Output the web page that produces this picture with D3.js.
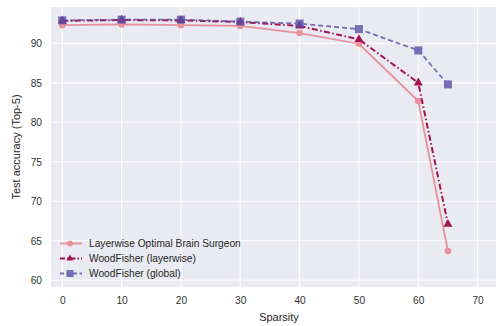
<!DOCTYPE html>
<html><head><meta charset="utf-8">
<script src="https://cdn.jsdelivr.net/npm/d3@7"></script>
<style>body{margin:0;background:#fff}svg{display:block;font-family:"Liberation Sans",Arial,sans-serif}</style>
</head><body><svg id="c" width="496" height="326"></svg>
<script>
const sparsity = [0, 10, 20, 30, 40, 50, 60, 65];
const obsValues = [92.3, 92.4, 92.3, 92.2, 91.3, 89.95, 82.7, 63.7];
const wfLayerValues = [92.85, 92.95, 92.9, 92.7, 92.2, 90.5, 85.0, 67.1];
const wfGlobalValues = [92.9, 93.0, 93.0, 92.75, 92.5, 91.8, 89.1, 84.8];
const xTicks = [0, 10, 20, 30, 40, 50, 60, 70];
const yTicks = [60, 65, 70, 75, 80, 85, 90];
const seriesNames = ["Layerwise Optimal Brain Surgeon", "WoodFisher (layerwise)", "WoodFisher (global)"];

const svg = d3.select("#c");
const L = 51, R = 496, T = 7, B = 287;
const x = d3.scaleLinear().domain([-1.9, 73.1]).range([L, R]);
const y = d3.scaleLinear().domain([59.15, 94.6]).range([B, T]);

svg.append("rect").attr("x", L).attr("y", T).attr("width", R - L).attr("height", B - T).attr("fill", "#eaeaf2");
const g = svg.append("g");
g.selectAll(".gx").data(xTicks).join("line").attr("x1", d => x(d)).attr("x2", d => x(d)).attr("y1", T).attr("y2", B).attr("stroke", "#fff").attr("stroke-width", 1.1);
g.selectAll(".gy").data(yTicks).join("line").attr("y1", d => y(d)).attr("y2", d => y(d)).attr("x1", L).attr("x2", R).attr("stroke", "#fff").attr("stroke-width", 1.1);

const xa = svg.append("g").attr("transform", `translate(0,${B})`).call(d3.axisBottom(x).tickValues(xTicks).tickSize(0).tickPadding(10));
const ya = svg.append("g").attr("transform", `translate(${L},0)`).call(d3.axisLeft(y).tickValues(yTicks).tickSize(0).tickPadding(9));
[xa, ya].forEach(a => { a.select(".domain").remove(); a.selectAll("text").attr("fill", "#333").style("font-size", "10.2px").style("font-family", '"Liberation Sans",Arial,sans-serif'); });

svg.append("text").attr("x", 279).attr("y", 321).attr("text-anchor", "middle").attr("fill", "#262626").style("font-size", "11px").text("Sparsity");
svg.append("text").attr("transform", `translate(20,${(T + B) / 2}) rotate(-90)`).attr("text-anchor", "middle").attr("fill", "#262626").style("font-size", "11px").text("Test accuracy (Top-5)");

const series = [
  {name: seriesNames[0], vals: obsValues, color: "#e8747f", dash: null, marker: "circle", opacity: 0.75, width: 1.8},
  {name: seriesNames[1], vals: wfLayerValues, color: "#a0154f", dash: "6,2.5,1.5,2.5", marker: "triangle", opacity: 1, width: 2},
  {name: seriesNames[2], vals: wfGlobalValues, color: "#5a4fa8", dash: "5,3", marker: "square", opacity: 0.8, width: 1.8}
];
const line = d3.line().x(d => x(d[0])).y(d => y(d[1]));
function marker(sel, type, color, size) {
  if (type === "circle") sel.append("circle").attr("r", size * 0.5).attr("fill", color);
  else if (type === "triangle") sel.append("path").attr("d", d3.symbol(d3.symbolTriangle, size * size * 0.55)()).attr("fill", color);
  else sel.append("rect").attr("x", -size / 2).attr("y", -size / 2).attr("width", size).attr("height", size).attr("fill", color);
}
series.forEach(s => {
  const pts = sparsity.map((v, i) => [v, s.vals[i]]);
  const gg = svg.append("g").attr("opacity", s.opacity);
  gg.append("path").attr("d", line(pts)).attr("fill", "none").attr("stroke", s.color).attr("stroke-width", s.width).attr("stroke-dasharray", s.dash);
  pts.forEach(p => {
    const m = gg.append("g").attr("transform", `translate(${x(p[0])},${y(p[1])})`);
    marker(m, s.marker, s.color, s.marker === "square" ? 8 : (s.marker === "circle" ? 6.5 : 8));
  });
});

// legend
series.forEach((s, i) => {
  const ly = 243.5 + i * 15;
  const lg = svg.append("g").attr("opacity", s.opacity);
  lg.append("line").attr("x1", 60).attr("x2", 82).attr("y1", ly).attr("y2", ly).attr("stroke", s.color).attr("stroke-width", s.width).attr("stroke-dasharray", s.dash ? (i === 1 ? "5,2,1.5,2" : "4,2.5") : null);
  const m = lg.append("g").attr("transform", `translate(70,${ly})`);
  marker(m, s.marker, s.color, s.marker === "square" ? 7 : 6);
  svg.append("text").attr("x", 89).attr("y", ly + 3.5).attr("fill", "#262626").style("font-size", "10.2px").text(s.name);
});
</script></body></html>
